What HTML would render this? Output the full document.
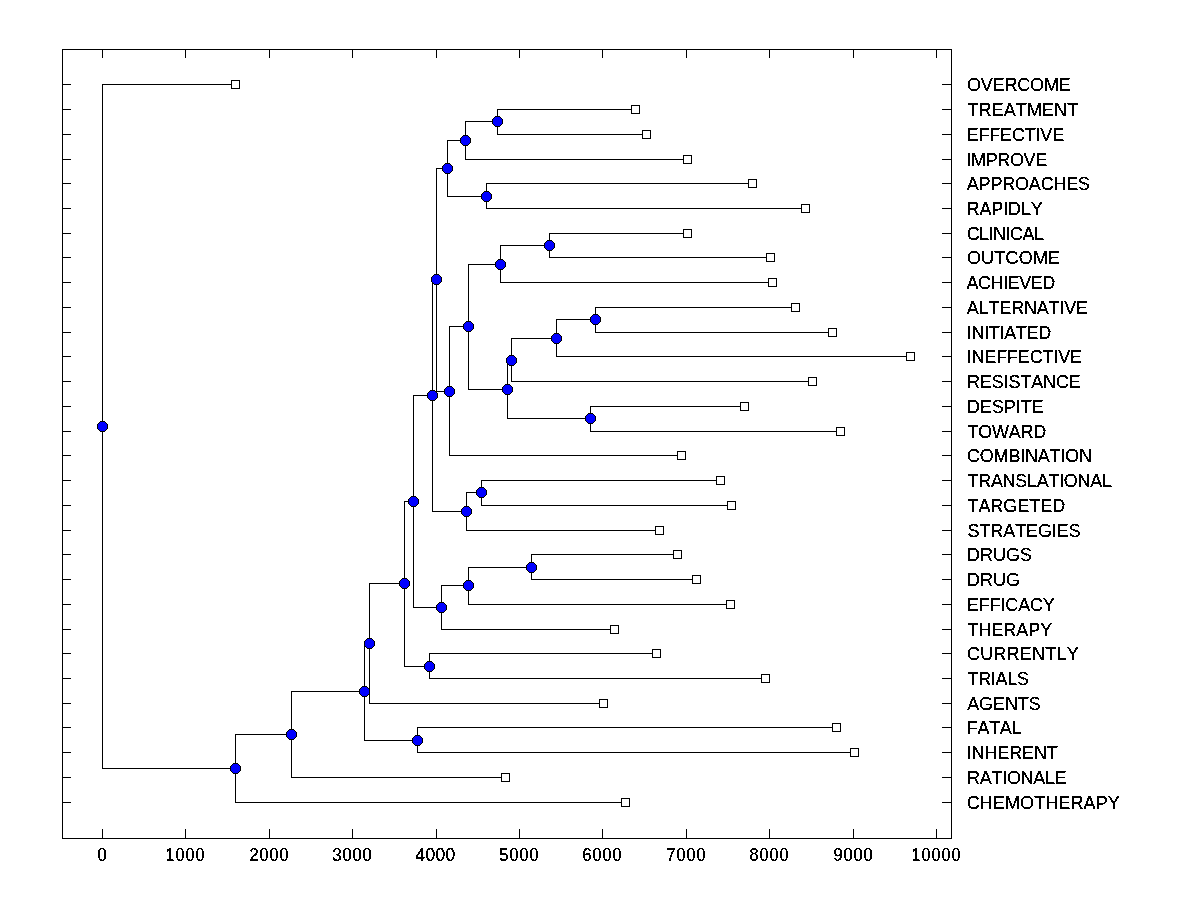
<!DOCTYPE html>
<html lang="en">
<head>
<meta charset="utf-8">
<title>Dendrogram</title>
<style>
html,body{margin:0;padding:0;background:#fff;}
body{width:1200px;height:900px;overflow:hidden;}
svg{display:block;}
text{font-family:"Liberation Sans",sans-serif;font-size:18px;fill:#000;stroke:#000;stroke-width:0.3px;font-kerning:none;}
</style>
</head>
<body>
<svg width="1200" height="900" viewBox="0 0 1200 900">
<rect x="0" y="0" width="1200" height="900" fill="#fff"/>
<defs>
<g id="c" shape-rendering="crispEdges">
<path fill="#000" d="M-2 -5h5v1h1v1h1v1h1v5h-1v1h-1v1h-1v1h-5v-1h-1v-1h-1v-1h-1v-5h1v-1h1v-1h1z"/>
<path fill="#00f" d="M-2 -4h5v1h1v1h1v5h-1v1h-1v1h-5v-1h-1v-1h-1v-5h1v-1h1z"/>
</g>
<filter id="t" x="0" y="0" width="1200" height="900" filterUnits="userSpaceOnUse" color-interpolation-filters="sRGB"><feComponentTransfer><feFuncA type="linear" slope="255" intercept="-139.75"/></feComponentTransfer></filter>
<g id="s" shape-rendering="crispEdges">
<rect x="-4" y="-4" width="9" height="9" fill="#000"/>
<rect x="-3" y="-3" width="7" height="7" fill="#fff"/>
</g>
</defs>
<path shape-rendering="crispEdges" fill="#000" d="M102 84h1v685h-1zM102 84h134v1h-134zM102 768h134v1h-134zM235 734h1v69h-1zM235 734h57v1h-57zM235 802h391v1h-391zM291 691h1v87h-1zM291 691h74v1h-74zM291 777h215v1h-215zM364 643h1v98h-1zM364 643h6v1h-6zM364 740h54v1h-54zM417 727h1v26h-1zM417 727h420v1h-420zM417 752h438v1h-438zM369 583h1v121h-1zM369 583h36v1h-36zM369 703h235v1h-235zM404 501h1v166h-1zM404 501h10v1h-10zM404 666h26v1h-26zM429 653h1v26h-1zM429 653h228v1h-228zM429 678h337v1h-337zM413 395h1v213h-1zM413 395h20v1h-20zM413 607h29v1h-29zM441 585h1v45h-1zM441 585h28v1h-28zM441 629h174v1h-174zM468 567h1v38h-1zM468 567h64v1h-64zM468 604h263v1h-263zM531 554h1v26h-1zM531 554h147v1h-147zM531 579h166v1h-166zM432 279h1v233h-1zM432 279h5v1h-5zM432 511h35v1h-35zM466 492h1v39h-1zM466 492h16v1h-16zM466 530h194v1h-194zM481 480h1v26h-1zM481 480h240v1h-240zM481 505h251v1h-251zM436 168h1v224h-1zM436 168h12v1h-12zM436 391h14v1h-14zM447 140h1v57h-1zM447 140h19v1h-19zM447 196h40v1h-40zM465 121h1v39h-1zM465 121h33v1h-33zM465 159h223v1h-223zM497 109h1v26h-1zM497 109h139v1h-139zM497 134h150v1h-150zM486 183h1v26h-1zM486 183h267v1h-267zM486 208h320v1h-320zM449 326h1v130h-1zM449 326h20v1h-20zM449 455h233v1h-233zM468 264h1v126h-1zM468 264h33v1h-33zM468 389h40v1h-40zM500 245h1v38h-1zM500 245h50v1h-50zM500 282h273v1h-273zM549 233h1v25h-1zM549 233h139v1h-139zM549 257h222v1h-222zM507 360h1v59h-1zM507 360h5v1h-5zM507 418h84v1h-84zM590 406h1v26h-1zM590 406h155v1h-155zM590 431h251v1h-251zM511 338h1v44h-1zM511 338h46v1h-46zM511 381h302v1h-302zM556 319h1v38h-1zM556 319h40v1h-40zM556 356h355v1h-355zM595 307h1v26h-1zM595 307h201v1h-201zM595 332h238v1h-238zM62 49h890v1h-890zM62 838h890v1h-890zM62 49h1v790h-1zM951 49h1v790h-1zM102 50h1v8h-1zM102 829h1v9h-1zM185 50h1v8h-1zM185 829h1v9h-1zM269 50h1v8h-1zM269 829h1v9h-1zM352 50h1v8h-1zM352 829h1v9h-1zM436 50h1v8h-1zM436 829h1v9h-1zM519 50h1v8h-1zM519 829h1v9h-1zM602 50h1v8h-1zM602 829h1v9h-1zM686 50h1v8h-1zM686 829h1v9h-1zM769 50h1v8h-1zM769 829h1v9h-1zM853 50h1v8h-1zM853 829h1v9h-1zM936 50h1v8h-1zM936 829h1v9h-1zM63 84h8v1h-8zM942 84h9v1h-9zM63 109h8v1h-8zM942 109h9v1h-9zM63 134h8v1h-8zM942 134h9v1h-9zM63 159h8v1h-8zM942 159h9v1h-9zM63 183h8v1h-8zM942 183h9v1h-9zM63 208h8v1h-8zM942 208h9v1h-9zM63 233h8v1h-8zM942 233h9v1h-9zM63 257h8v1h-8zM942 257h9v1h-9zM63 282h8v1h-8zM942 282h9v1h-9zM63 307h8v1h-8zM942 307h9v1h-9zM63 332h8v1h-8zM942 332h9v1h-9zM63 356h8v1h-8zM942 356h9v1h-9zM63 381h8v1h-8zM942 381h9v1h-9zM63 406h8v1h-8zM942 406h9v1h-9zM63 431h8v1h-8zM942 431h9v1h-9zM63 455h8v1h-8zM942 455h9v1h-9zM63 480h8v1h-8zM942 480h9v1h-9zM63 505h8v1h-8zM942 505h9v1h-9zM63 530h8v1h-8zM942 530h9v1h-9zM63 554h8v1h-8zM942 554h9v1h-9zM63 579h8v1h-8zM942 579h9v1h-9zM63 604h8v1h-8zM942 604h9v1h-9zM63 629h8v1h-8zM942 629h9v1h-9zM63 653h8v1h-8zM942 653h9v1h-9zM63 678h8v1h-8zM942 678h9v1h-9zM63 703h8v1h-8zM942 703h9v1h-9zM63 727h8v1h-8zM942 727h9v1h-9zM63 752h8v1h-8zM942 752h9v1h-9zM63 777h8v1h-8zM942 777h9v1h-9zM63 802h8v1h-8zM942 802h9v1h-9z"/>
<g>
<use href="#s" x="235" y="84"/>
<use href="#s" x="635" y="109"/>
<use href="#s" x="646" y="134"/>
<use href="#s" x="687" y="159"/>
<use href="#s" x="752" y="183"/>
<use href="#s" x="805" y="208"/>
<use href="#s" x="687" y="233"/>
<use href="#s" x="770" y="257"/>
<use href="#s" x="772" y="282"/>
<use href="#s" x="795" y="307"/>
<use href="#s" x="832" y="332"/>
<use href="#s" x="910" y="356"/>
<use href="#s" x="812" y="381"/>
<use href="#s" x="744" y="406"/>
<use href="#s" x="840" y="431"/>
<use href="#s" x="681" y="455"/>
<use href="#s" x="720" y="480"/>
<use href="#s" x="731" y="505"/>
<use href="#s" x="659" y="530"/>
<use href="#s" x="677" y="554"/>
<use href="#s" x="696" y="579"/>
<use href="#s" x="730" y="604"/>
<use href="#s" x="614" y="629"/>
<use href="#s" x="656" y="653"/>
<use href="#s" x="765" y="678"/>
<use href="#s" x="603" y="703"/>
<use href="#s" x="836" y="727"/>
<use href="#s" x="854" y="752"/>
<use href="#s" x="505" y="777"/>
<use href="#s" x="625" y="802"/>
</g>
<g>
<use href="#c" x="102" y="426"/>
<use href="#c" x="235" y="768"/>
<use href="#c" x="291" y="734"/>
<use href="#c" x="364" y="691"/>
<use href="#c" x="417" y="740"/>
<use href="#c" x="369" y="643"/>
<use href="#c" x="404" y="583"/>
<use href="#c" x="429" y="666"/>
<use href="#c" x="413" y="501"/>
<use href="#c" x="441" y="607"/>
<use href="#c" x="468" y="585"/>
<use href="#c" x="531" y="567"/>
<use href="#c" x="432" y="395"/>
<use href="#c" x="466" y="511"/>
<use href="#c" x="481" y="492"/>
<use href="#c" x="436" y="279"/>
<use href="#c" x="447" y="168"/>
<use href="#c" x="465" y="140"/>
<use href="#c" x="497" y="121"/>
<use href="#c" x="486" y="196"/>
<use href="#c" x="449" y="391"/>
<use href="#c" x="468" y="326"/>
<use href="#c" x="500" y="264"/>
<use href="#c" x="549" y="245"/>
<use href="#c" x="507" y="389"/>
<use href="#c" x="590" y="418"/>
<use href="#c" x="511" y="360"/>
<use href="#c" x="556" y="338"/>
<use href="#c" x="595" y="319"/>
</g>
<g filter="url(#t)">
<text transform="translate(967.0 91) scale(1 1.05)" textLength="103.72" lengthAdjust="spacing">OVERCOME</text>
<text transform="translate(967.5 116) scale(1 1.05)" textLength="110.69" lengthAdjust="spacing">TREATMENT</text>
<text transform="translate(966.65 141) scale(1 1.05)" textLength="97.52" lengthAdjust="spacing">EFFECTIVE</text>
<text transform="translate(966.5 166) scale(1 1.05)" textLength="80.73" lengthAdjust="spacing">IMPROVE</text>
<text transform="translate(966.8 190) scale(1 1.05)" textLength="123.32" lengthAdjust="spacing">APPROACHES</text>
<text transform="translate(966.5 215) scale(1 1.05)" textLength="76.36" lengthAdjust="spacing">RAPIDLY</text>
<text transform="translate(966.65 240) scale(1 1.05)" textLength="77.35" lengthAdjust="spacing">CLINICAL</text>
<text transform="translate(966.95 264) scale(1 1.05)" textLength="93.11" lengthAdjust="spacing">OUTCOME</text>
<text transform="translate(966.55 289) scale(1 1.05)" textLength="88.74" lengthAdjust="spacing">ACHIEVED</text>
<text transform="translate(966.8 314) scale(1 1.05)" textLength="121.32" lengthAdjust="spacing">ALTERNATIVE</text>
<text transform="translate(966.85 339) scale(1 1.05)" textLength="84.33" lengthAdjust="spacing">INITIATED</text>
<text transform="translate(966.6 363) scale(1 1.05)" textLength="115.5" lengthAdjust="spacing">INEFFECTIVE</text>
<text transform="translate(967.1 388) scale(1 1.05)" textLength="113.72" lengthAdjust="spacing">RESISTANCE</text>
<text transform="translate(966.9 413) scale(1 1.05)" textLength="76.94" lengthAdjust="spacing">DESPITE</text>
<text transform="translate(967.4 438) scale(1 1.05)" textLength="78.92" lengthAdjust="spacing">TOWARD</text>
<text transform="translate(967.05 462) scale(1 1.05)" textLength="124.88" lengthAdjust="spacing">COMBINATION</text>
<text transform="translate(967.5 487) scale(1 1.05)" textLength="144.5" lengthAdjust="spacing">TRANSLATIONAL</text>
<text transform="translate(967.45 512) scale(1 1.05)" textLength="97.71" lengthAdjust="spacing">TARGETED</text>
<text transform="translate(967.55 537) scale(1 1.05)" textLength="113.11" lengthAdjust="spacing">STRATEGIES</text>
<text transform="translate(966.9 561) scale(1 1.05)" textLength="65.15" lengthAdjust="spacing">DRUGS</text>
<text transform="translate(966.9 586) scale(1 1.05)" textLength="53.16" lengthAdjust="spacing">DRUG</text>
<text transform="translate(966.95 611) scale(1 1.05)" textLength="87.92" lengthAdjust="spacing">EFFICACY</text>
<text transform="translate(967.4 636) scale(1 1.05)" textLength="84.94" lengthAdjust="spacing">THERAPY</text>
<text transform="translate(966.9 660) scale(1 1.05)" textLength="111.91" lengthAdjust="spacing">CURRENTLY</text>
<text transform="translate(967.45 685) scale(1 1.05)" textLength="61.57" lengthAdjust="spacing">TRIALS</text>
<text transform="translate(967.2 710) scale(1 1.05)" textLength="73.54" lengthAdjust="spacing">AGENTS</text>
<text transform="translate(966.8 734) scale(1 1.05)" textLength="54.76" lengthAdjust="spacing">FATAL</text>
<text transform="translate(966.7 759) scale(1 1.05)" textLength="91.12" lengthAdjust="spacing">INHERENT</text>
<text transform="translate(967.05 784) scale(1 1.05)" textLength="99.74" lengthAdjust="spacing">RATIONALE</text>
<text transform="translate(966.7 809) scale(1 1.05)" textLength="153.08" lengthAdjust="spacing">CHEMOTHERAPY</text>
</g>
<g filter="url(#t)">
<text transform="translate(97.15 861) scale(0.96 1.05)" style="letter-spacing:0.406px">0</text>
<text transform="translate(165.4 861) scale(0.9 1.05)" style="letter-spacing:1.1px">1000</text>
<text transform="translate(249.15 861) scale(0.94 1.05)" style="letter-spacing:0.628px">2000</text>
<text transform="translate(332.15 861) scale(0.96 1.05)" style="letter-spacing:0.406px">3000</text>
<text transform="translate(415.2 861) scale(1.0 1.05)" style="letter-spacing:-0.011px">4000</text>
<text transform="translate(499.15 861) scale(0.94 1.05)" style="letter-spacing:0.628px">5000</text>
<text transform="translate(582.15 861) scale(0.94 1.05)" style="letter-spacing:0.628px">6000</text>
<text transform="translate(666.15 861) scale(0.94 1.05)" style="letter-spacing:0.628px">7000</text>
<text transform="translate(749.4 861) scale(0.9 1.05)" style="letter-spacing:1.1px">8000</text>
<text transform="translate(833.15 861) scale(0.96 1.05)" style="letter-spacing:0.406px">9000</text>
<text transform="translate(911.4 861) scale(0.9 1.05)" style="letter-spacing:1.1px">10000</text>
</g>
</svg>
</body>
</html>
